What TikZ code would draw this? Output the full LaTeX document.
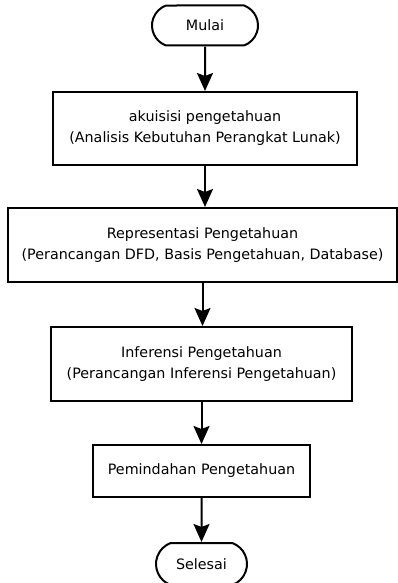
\documentclass[tikz,border=0pt]{standalone}
\usepackage{fontspec}
\setmainfont{DejaVu Sans}
\usepackage{tikz}
\usetikzlibrary{positioning, arrows.meta, shapes.misc}

\tikzset{
    proses/.style={draw, line width=2pt, rectangle, align=center, inner sep=0pt,
        font=\fontsize{14.3}{21}\selectfont},
    terminal/.style={draw, line width=2pt, rounded rectangle, rounded rectangle arc length=140,
        align=center, inner sep=0pt, font=\fontsize{14.3}{21}\selectfont},
    panah/.style={line width=2pt, -{Stealth[length=18pt, width=16pt, inset=3pt]}}
}

\begin{document}
\begin{tikzpicture}[x=1pt, y=-1pt]
    \useasboundingbox (0,0) rectangle (398,583);

    % Start
    \node[terminal, minimum width=106pt, minimum height=40pt] (mulai) at (205,25.5) {Mulai};

    % Steps
    \node[proses, minimum width=304pt, minimum height=73pt] (akuisisi) at (205,128.5)
        {akuisisi pengetahuan\\(Analisis Kebutuhan Perangkat Lunak)};
    \node[proses, minimum width=389pt, minimum height=74pt] (representasi) at (202.5,245)
        {Representasi Pengetahuan\\(Perancangan DFD, Basis Pengetahuan, Database)};
    \node[proses, minimum width=301pt, minimum height=74pt] (inferensi) at (201.5,364)
        {Inferensi Pengetahuan\\(Perancangan Inferensi Pengetahuan)};
    \node[proses, minimum width=217pt, minimum height=52pt] (pemindahan) at (201.5,471)
        {Pemindahan Pengetahuan};

    % End
    \node[terminal, minimum width=91pt, minimum height=42pt] (selesai) at (201.5,564) {Selesai};

    % Arrows
    \draw[panah] (mulai) -- (akuisisi);
    \draw[panah] (akuisisi.south) -- (akuisisi.south |- representasi.north);
    \draw[panah] (representasi.south) -- (representasi.south |- inferensi.north);
    \draw[panah] (inferensi) -- (pemindahan);
    \draw[panah] (pemindahan) -- (selesai);
\end{tikzpicture}
\end{document}
